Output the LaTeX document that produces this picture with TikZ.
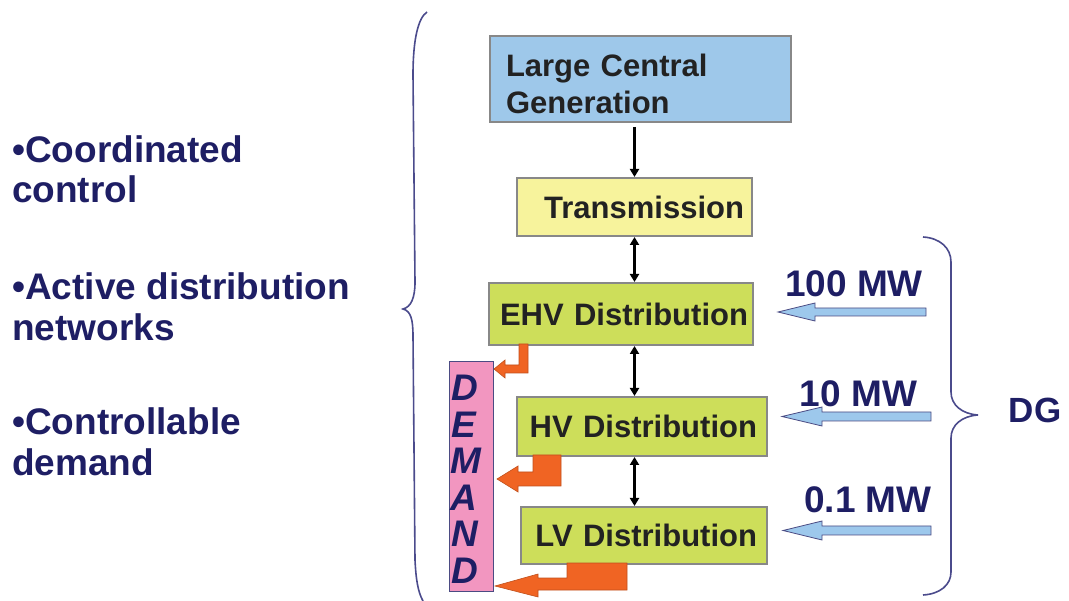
\documentclass[tikz,border=0pt]{standalone}
\usepackage{fontspec}
\setmainfont{Liberation Sans}
\usetikzlibrary{arrows.meta}
\definecolor{navy}{RGB}{30,30,100}
\definecolor{bracecol}{RGB}{75,75,140}
\definecolor{boxtext}{RGB}{34,34,34}
\definecolor{boxborder}{RGB}{136,136,136}
\definecolor{lcgfill}{RGB}{158,200,234}
\definecolor{trfill}{RGB}{247,243,156}
\definecolor{grfill}{RGB}{205,222,90}
\definecolor{pinkfill}{RGB}{242,150,192}
\definecolor{orangefill}{RGB}{240,100,35}
\definecolor{arrowblue}{RGB}{157,200,236}
\tikzset{
  box/.style={draw=boxborder, line width=2pt, inner ysep=0pt, anchor=north west,
    font=\fontsize{31}{37}\selectfont\bfseries, text=boxtext},
  conn/.style={draw=black, line width=2.2pt, >={Triangle[length=8pt,width=9pt]}},
  blockorange/.style={fill=orangefill, draw=orangefill!80!black, line width=0.6pt},
  blockblue/.style={fill=arrowblue, draw=navy!80, line width=0.8pt},
  sidetext/.style={anchor=base west, inner sep=0pt, text=navy,
    font=\fontsize{37}{41}\selectfont\bfseries},
  mwlabel/.style={anchor=base, inner sep=0pt, text=navy,
    font=\fontsize{37}{41}\selectfont\bfseries},
  demletter/.style={anchor=base west, inner sep=0pt, text=navy,
    font=\fontsize{37}{40}\selectfont\bfseries\itshape},
  bracepath/.style={draw=bracecol, line width=1.6pt}
}
\begin{document}
\begin{tikzpicture}[x=1pt, y=-1pt]
\useasboundingbox (0,0) rectangle (1069,601);

% Left side text
\node[sidetext] (c1) at (12,163) {•Coordinated};
\node[sidetext] (c2) at (12,203) {control};
\node[sidetext] (a1) at (12,300) {•Active distribution};
\node[sidetext] (a2) at (12,341) {networks};
\node[sidetext] (d1) at (12,435) {•Controllable};
\node[sidetext] (d2) at (12,476) {demand};

% Left brace
\draw[bracepath] (427,12) .. controls (418,18) and (413,40) .. (413,75)
  -- (415,282) .. controls (415,298) and (411,307) .. (403,309)
  .. controls (411,311) and (413,320) .. (413,336)
  -- (415,560) .. controls (416,580) and (418,592) .. (423,601);

% Boxes
\node[box, fill=lcgfill, minimum width=301pt, minimum height=86pt,
  text width=269pt, inner xsep=16pt, align=left] (lcg) at (489,35)
  {\rule{0pt}{32pt}Large Central\\Generation};
\node[box, fill=trfill, minimum width=235pt, minimum height=58pt,
  text width=219pt, inner xsep=8pt, align=right] (tr) at (516,177) {Transmission};
\node[box, fill=grfill, minimum width=264pt, minimum height=62pt,
  text width=254pt, inner xsep=5pt, align=right] (ehv) at (488,282) {EHV Distribution};
\node[box, fill=grfill, minimum width=250pt, minimum height=59pt,
  text width=230pt, inner xsep=10pt, align=right] (hv) at (516,396) {HV Distribution};
\node[box, fill=grfill, minimum width=246pt, minimum height=57pt,
  text width=226pt, inner xsep=10pt, align=right] (lv) at (520,506) {LV Distribution};

% Demand box
\node[draw=navy!80, line width=1pt, fill=pinkfill, anchor=north west,
  minimum width=44pt, minimum height=230pt, inner sep=0pt] (dem) at (449,361) {};
\node[demletter] (dl1) at (451,401) {D};
\node[demletter] (dl2) at (451,437.5) {E};
\node[demletter] (dl3) at (450,474) {M};
\node[demletter] (dl4) at (450,510.5) {A};
\node[demletter] (dl5) at (451,547) {N};
\node[demletter] (dl6) at (451,583.5) {D};

% Connectors
\draw[conn, ->, shorten <=4pt] (tr.north |- lcg.south) -- (tr.north);
\draw[conn, <->] (tr.south) -- (tr.south |- ehv.north);
\draw[conn, <->] (tr.south |- ehv.south) -- (tr.south |- hv.north);
\draw[conn, <->] (tr.south |- hv.south) -- (tr.south |- lv.north);

% Orange demand arrows
\draw[blockorange] (519,344) -- (528,344) -- (528,373) -- (505,373) -- (505,378)
  -- (494,369) -- (505,360) -- (505,365) -- (519,365) -- cycle;
\draw[blockorange] (533,455) -- (561,455) -- (561,486) -- (518,486) -- (518,492)
  -- (497,479) -- (518,466) -- (518,472) -- (533,472) -- cycle;
\draw[blockorange] (567,563) -- (627,563) -- (627,590) -- (538,590) -- (538,597)
  -- (495,586) -- (538,574) -- (538,578) -- (567,578) -- cycle;

% Blue DG arrows
\draw[blockblue] (926,308) -- (926,316) -- (815,316) -- (815,321) -- (778,312)
  -- (815,303) -- (815,308) -- cycle;
\draw[blockblue] (931,412) -- (931,421) -- (822,421) -- (822,426) -- (782,416.5)
  -- (822,407) -- (822,412) -- cycle;
\draw[blockblue] (931,526) -- (931,535) -- (822,535) -- (822,540) -- (783,530.5)
  -- (822,521) -- (822,526) -- cycle;

% MW labels
\node[mwlabel] (mw1) at (854,297) {100 MW};
\node[mwlabel] (mw2) at (858.5,407) {10 MW};
\node[mwlabel] (mw3) at (868,512) {0.1 MW};

% Right brace
\draw[bracepath] (923,237) .. controls (940,238) and (951,248) .. (951,262)
  -- (951,392) .. controls (951,405) and (962,414) .. (978,415)
  .. controls (962,416) and (951,425) .. (951,438)
  -- (951,572) .. controls (951,585) and (940,594) .. (923,595);
\node[anchor=base, inner sep=0pt, text=navy, font=\fontsize{35}{40}\selectfont\bfseries]
  (dg) at (1035,423) {DG};
\end{tikzpicture}
\end{document}
